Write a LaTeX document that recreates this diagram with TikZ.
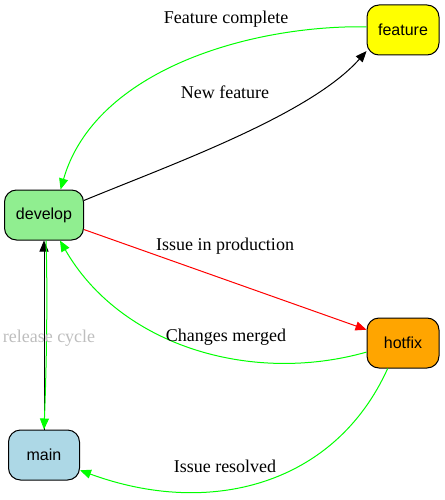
\documentclass[tikz,border=0pt]{standalone}
\usepackage{fontspec}
\setmainfont{Liberation Serif}
\setsansfont{Liberation Sans}
\usepackage{xcolor}
\usetikzlibrary{arrows.meta,positioning}

\definecolor{devgreen}{HTML}{90EE90}
\definecolor{mainblue}{HTML}{ADD8E6}
\definecolor{hotorange}{HTML}{FFA500}
\definecolor{featyellow}{HTML}{FFFF00}
\definecolor{flowgreen}{HTML}{00FF00}
\definecolor{cyclegray}{HTML}{BEBEBE}

\begin{document}
\begin{tikzpicture}[x=1pt, y=-1pt, line width=1pt,
    branch/.style={draw, rounded corners=12pt, minimum width=72pt, minimum height=50pt,
      font=\sffamily\fontsize{16}{19}\selectfont, inner sep=3pt},
    lbl/.style={font=\fontsize{18}{21}\selectfont, inner sep=0pt},
    tip/.style={-{Triangle[length=11pt,width=9pt]}}]
  \useasboundingbox (0,0) rectangle (444,500);
  \node[branch,fill=featyellow] (feature) at (403,30) {feature};
  \node[branch,fill=devgreen,minimum width=79pt] (develop) at (44,215) {develop};
  \node[branch,fill=hotorange] (hotfix) at (403,343) {hotfix};
  \node[branch,fill=mainblue,minimum width=71pt] (main) at (44,455) {main};

  % branch edges
  \draw[tip] (develop.20) .. controls (170,165) and (310,115) .. (feature.210);
  \draw[tip,flowgreen] (feature.175) .. controls (250,25) and (95,70) .. (develop.57);
  \draw[tip,red] (develop.-20) -- (hotfix.160);
  \draw[tip,flowgreen] (hotfix.194) .. controls (250,385) and (120,345) .. (develop.-58);
  \draw[tip,flowgreen] (hotfix.-121) .. controls (335,485) and (210,518) .. (main.-23);
  \draw[tip] (main.north) -- (develop.south);
  \draw[tip,flowgreen] ([xshift=2pt]develop.south) .. controls (48,300) and (46,380) .. (main.north);

  % labels
  \node[lbl] (lfc) at (226,19) {Feature complete};
  \node[lbl] (lnf) at (225,92) {New feature};
  \node[lbl] (lip) at (225,246) {Issue in production};
  \node[lbl] (lcm) at (226,337) {Changes merged};
  \node[lbl] (lir) at (225,466) {Issue resolved};
  \node[lbl,text=cyclegray] (lrc) at (49,338) {release cycle};
\end{tikzpicture}
\end{document}
